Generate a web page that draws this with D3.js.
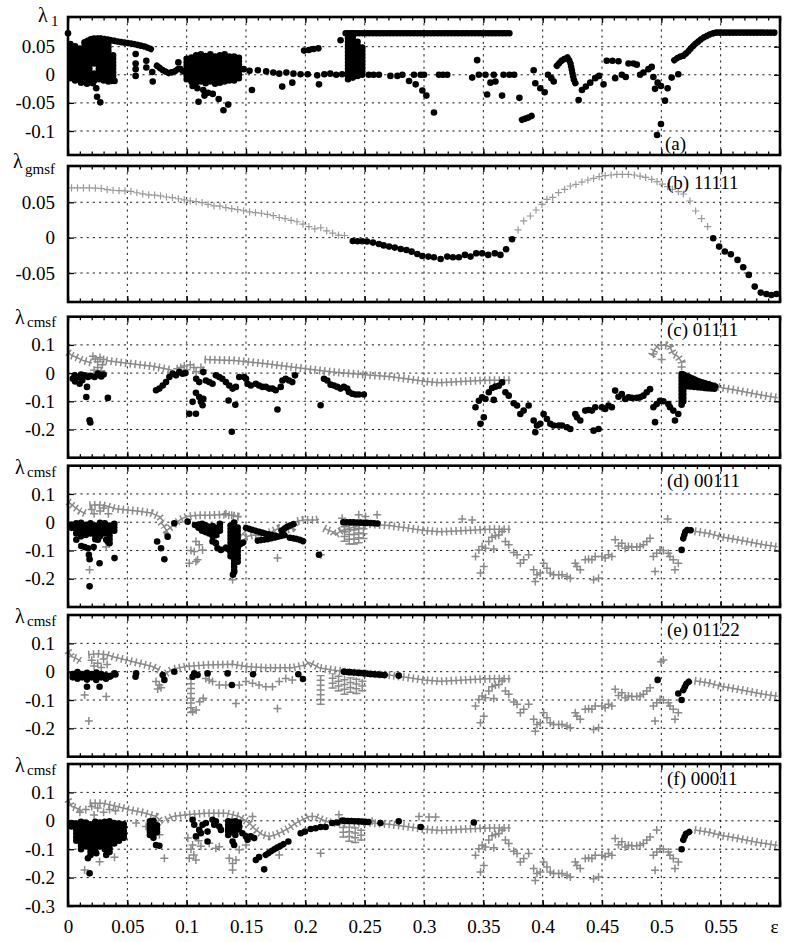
<!DOCTYPE html>
<head>
<meta charset="utf-8">
<title>Lyapunov exponents vs coupling</title>
<script src="https://d3js.org/d3.v7.min.js"></script>
<style>
  body { margin: 0; background: #fff; }
  svg text { font-family: "Liberation Serif", "DejaVu Serif", serif; fill: #000; }
</style>
</head>
<body>
<div id="chart"></div>
<script>

// x axis (coupling strength eps)
var xTicks = [0, 0.05, 0.1, 0.15, 0.2, 0.25, 0.3, 0.35, 0.4, 0.45, 0.5, 0.55, 0.6];
var xTickLabels = ["0", "0.05", "0.1", "0.15", "0.2", "0.25", "0.3", "0.35", "0.4", "0.45", "0.5", "0.55", "ε"];

// ---- panel (a): lambda_1 ----
var aDots = [
  [0.0,0.074],
  [0.011,-0.014],[0.016,-0.016],[0.0238,-0.024],[0.0245,-0.039],[0.0272,-0.049],[0.021,-0.015],[0.0364,-0.011],[0.0392,-0.011],
  [0.057,0.037],[0.057,0.02],[0.057,0.01],[0.057,-0.002],[0.066,0.025],[0.066,0.013],[0.071,0.005],[0.0714,-0.012],[0.093,0.022],
  [0.105,-0.02],[0.109,-0.024],[0.114,-0.027],[0.110,-0.048],[0.115,-0.037],[0.118,-0.032],[0.122,-0.034],[0.127,-0.043],[0.131,-0.063],[0.135,-0.053],
  [0.148,0.01],[0.153,0.007],[0.16,0.008],[0.167,0.006],[0.173,0.004],[0.178,0.002],[0.184,0.004],[0.19,0.002],[0.196,0.001],[0.202,0.001],[0.21,-0.001],[0.216,0.001],[0.221,0.002],[0.226,0],[0.231,0.001],
  [0.155,-0.027],[0.1805,-0.021],[0.189,-0.014],[0.2115,-0.017],
  [0.199,0.043],[0.203,0.044],[0.207,0.046],[0.211,0.047],[0.2297,0.0615],
  [0.2535,0],[0.2575,0],[0.262,0],[0.2717,-0.002],
  [0.2776,-0.002],[0.2818,0],[0.2874,-0.011],[0.293,-0.017],[0.2986,-0.028],[0.302,-0.037],[0.3084,-0.067],[0.2916,0],[0.2972,0],[0.300,0],[0.3126,0],[0.316,0],[0.3196,0],
  [0.3448,0.026],[0.3406,-0.005],[0.3462,0],[0.3518,0],[0.3532,-0.035],[0.356,-0.014],[0.3588,0],[0.3602,-0.012],[0.3658,-0.037],[0.367,0],[0.372,0],[0.376,0],
  [0.3804,-0.041],[0.3924,0.008],[0.3938,-0.015],[0.398,-0.024],[0.4017,-0.031],[0.4045,0],[0.4073,-0.006],[0.4093,-0.012],
  [0.4303,-0.045],[0.4331,-0.027],[0.4364,-0.021],[0.4401,-0.014],[0.4443,-0.006],[0.4476,-0.002],[0.4513,-0.017],
  [0.454,0.025],[0.4588,0.025],[0.4639,0.024],[0.4611,-0.006],[0.4667,0],[0.47,-0.004],[0.4723,0.02],[0.4765,0.02],[0.4793,0.018],
  [0.4821,0],[0.4849,0.004],[0.4891,0.01],[0.4919,0.014],[0.4933,-0.004],[0.4947,-0.025],[0.4969,-0.014],[0.4997,-0.02],[0.5031,-0.046],
  [0.5053,-0.024],[0.4997,-0.0876],[0.4964,-0.107],[0.5087,-0.005],[0.5143,0.001]
];
var aCols = [
  [0.002,-0.006,0.058],[0.006,-0.01,0.056],[0.010,-0.008,0.05],[0.014,-0.012,0.058],[0.018,-0.013,0.06],[0.022,0.02,0.062],[0.022,-0.01,0.005],
  [0.026,-0.008,0.064],[0.030,-0.01,0.06],[0.034,-0.012,0.055],[0.038,-0.008,0.04],
  [0.100,-0.008,0.03],[0.104,-0.012,0.035],[0.108,-0.014,0.037],[0.112,-0.012,0.037],[0.116,-0.015,0.037],[0.120,-0.012,0.037],
  [0.124,-0.016,0.037],[0.128,-0.014,0.037],[0.132,-0.012,0.037],[0.136,-0.01,0.037],[0.140,-0.01,0.037],[0.144,-0.006,0.035],
  [0.236,-0.008,0.074],[0.240,-0.005,0.074],[0.244,-0.002,0.06],[0.248,0.0,0.05]
];
var aChains = [
  [[0.014,0.058],[0.02,0.064],[0.027,0.065],[0.035,0.062],[0.045,0.058],[0.055,0.055],[0.065,0.05],[0.072,0.044]],
  [[0.075,0.016],[0.08,0.008],[0.085,0.003],[0.09,0.006],[0.094,0.012],[0.098,0.004]],
  [[0.234,0.074],[0.373,0.074]],
  [[0.3826,-0.080],[0.388,-0.076],[0.391,-0.073]],
  [[0.412,0.016],[0.4163,0.026],[0.421,0.031],[0.4233,0.022],[0.4247,0.007],[0.4261,-0.008],[0.428,-0.017]],
  [[0.511,0.026],[0.5143,0.031],[0.5185,0.034],[0.522,0.04],[0.5255,0.0485],[0.5297,0.057],[0.5353,0.066],[0.541,0.072],[0.5451,0.075],[0.598,0.075]]
];

// ---- panel (b): lambda_gmsf, pattern 11111 ----
var bPlus = [
  [0.003,0.0705],[0.008,0.0705],[0.013,0.0705],[0.018,0.0705],[0.023,0.07],[0.028,0.0695],[0.033,0.068],[0.038,0.067],[0.043,0.0665],[0.048,0.066],
  [0.053,0.0655],[0.058,0.0635],[0.063,0.062],[0.068,0.0605],[0.073,0.06],[0.078,0.059],[0.083,0.0575],[0.088,0.0565],[0.093,0.055],[0.098,0.0535],
  [0.103,0.052],[0.108,0.051],[0.113,0.0495],[0.118,0.047],[0.123,0.045],[0.128,0.0445],[0.133,0.0425],[0.138,0.041],[0.143,0.0395],[0.148,0.038],
  [0.153,0.0365],[0.158,0.0355],[0.163,0.0345],[0.168,0.033],[0.173,0.031],[0.178,0.0285],[0.183,0.027],[0.188,0.0245],[0.193,0.0225],[0.198,0.019],
  [0.203,0.0155],[0.208,0.0125],[0.213,0.014],[0.218,0.0095],[0.223,0.0065],[0.228,0.0035],[0.233,0.003],
  [0.3793,0.0109],[0.384,0.0236],[0.3896,0.0306],[0.3944,0.0391],[0.3994,0.0471],[0.4036,0.0542],[0.4084,0.057],[0.4134,0.0636],[0.4185,0.0683],
  [0.4233,0.073],[0.428,0.0753],[0.4331,0.0786],[0.4381,0.0815],[0.4429,0.0839],[0.4476,0.0862],[0.4527,0.0876],[0.4577,0.0886],[0.4625,0.0895],
  [0.4672,0.0895],[0.4723,0.0895],[0.4773,0.0886],[0.4821,0.0871],[0.4868,0.0853],[0.4919,0.0824],[0.4964,0.0792],[0.5009,0.0758],[0.5053,0.0721],
  [0.5093,0.0683],[0.5143,0.065],[0.5185,0.0617],[0.5241,0.0518],[0.5289,0.0377],[0.5339,0.0269],[0.539,0.0156]
];
var bDots = [
  [0.24,-0.0047],[0.244,-0.005],[0.248,-0.005],[0.252,-0.0055],[0.257,-0.007],[0.262,-0.009],[0.266,-0.011],[0.2706,-0.0127],[0.2754,-0.0141],
  [0.2804,-0.016],[0.2852,-0.0174],[0.2896,-0.0198],[0.2944,-0.0231],[0.2986,-0.0259],[0.3037,-0.0268],[0.3084,-0.0277],[0.314,-0.0301],
  [0.3196,-0.0268],[0.3244,-0.0277],[0.3294,-0.0277],[0.3345,-0.0244],[0.3392,-0.0268],[0.344,-0.0221],[0.349,-0.0221],[0.3541,-0.0244],
  [0.3597,-0.0221],[0.3644,-0.0244],[0.3692,-0.0164],[0.3742,-0.0023],
  [0.5437,-0.0009],[0.5487,-0.0127],[0.5535,-0.0197],[0.5586,-0.0235],[0.5642,-0.0315],[0.569,-0.0419],[0.5737,-0.0527],[0.5787,-0.0692],
  [0.5838,-0.0777],[0.5885,-0.0796],[0.5927,-0.081],[0.597,-0.0796]
];

// ---- shared pieces of the cmsf panels ----
var midBand = [[0.25,-0.006],[0.2706,-0.012],[0.285,-0.02],[0.3,-0.029],[0.313,-0.034],[0.327,-0.031],[0.34,-0.028],[0.355,-0.025],[0.373,-0.025]];
var tailBand = [[0.528,-0.032],[0.54,-0.04],[0.551,-0.052],[0.562,-0.06],[0.573,-0.069],[0.584,-0.078],[0.598,-0.087]];
var cloud = [
  [0.3434,-0.121],[0.3462,-0.098],[0.349,-0.086],[0.3518,-0.092],[0.3546,-0.068],[0.3574,-0.053],[0.3602,-0.048],[0.363,-0.045],[0.3658,-0.033],
  [0.3476,-0.18],[0.3504,-0.157],[0.3588,-0.095],[0.3686,-0.068],[0.3714,-0.08],[0.3756,-0.107],[0.3784,-0.115],[0.3812,-0.145],[0.384,-0.133],
  [0.3882,-0.115],[0.3924,-0.168],[0.3952,-0.186],[0.3938,-0.21],[0.398,-0.18],[0.4008,-0.145],[0.4036,-0.163],[0.4064,-0.18],[0.4092,-0.186],
  [0.4135,-0.186],[0.4163,-0.186],[0.4205,-0.192],[0.4233,-0.198],[0.4275,-0.145],[0.4289,-0.157],[0.4317,-0.168],[0.4359,-0.133],[0.4387,-0.131],
  [0.4415,-0.133],[0.4443,-0.121],[0.4429,-0.204],[0.4471,-0.198],[0.4499,-0.121],[0.4527,-0.127],[0.4555,-0.115],[0.4583,-0.121],[0.4611,-0.062],
  [0.4639,-0.084],[0.4667,-0.074],[0.4695,-0.092],[0.4723,-0.086],[0.4751,-0.088],[0.4793,-0.088],[0.4821,-0.086],[0.4849,-0.08],[0.4877,-0.068],
  [0.4905,-0.057],[0.4933,-0.121],[0.4947,-0.174],[0.4961,-0.11],[0.4989,-0.098],[0.5017,-0.1],[0.5059,-0.11],[0.5073,-0.121],[0.5101,-0.133],
  [0.5115,-0.168],[0.5143,-0.145]
];

// ---- panel (c): 01111 ----
var cDots = [
  [0.004,-0.02],[0.0056,-0.008],[0.006,-0.03],[0.0084,-0.014],[0.0098,-0.038],[0.011,-0.005],[0.012,-0.025],[0.014,-0.008],[0.0168,-0.014],
  [0.016,-0.049],[0.0154,-0.085],[0.0182,-0.167],[0.0188,-0.175],[0.019,-0.01],[0.0224,-0.014],[0.0252,-0.002],[0.0266,-0.008],[0.028,-0.012],
  [0.03,-0.005],[0.0336,-0.088],
  [0.0742,-0.061],[0.077,-0.055],[0.0798,-0.044],[0.0826,-0.032],[0.0854,-0.014],[0.0882,-0.002],[0.091,-0.008],[0.0938,0.0035],[0.0966,-0.0024],[0.099,0.0],
  [0.1022,-0.144],[0.105,-0.102],[0.1078,-0.144],[0.1078,-0.07],[0.1106,-0.085],[0.112,-0.102],[0.1134,-0.114],[0.114,-0.091],[0.108,-0.02],
  [0.1106,-0.032],[0.114,0.0035],[0.1162,-0.026],[0.119,-0.032],[0.1218,-0.038],[0.1246,-0.008],[0.1275,-0.014],[0.13,-0.02],[0.133,-0.032],
  [0.1359,-0.044],[0.1387,-0.055],[0.1415,-0.049],[0.1353,-0.097],[0.141,-0.112],[0.138,-0.208],[0.1443,-0.014],[0.1485,-0.014],[0.15,-0.02],
  [0.1513,-0.038],[0.1541,-0.044],[0.1583,-0.038],[0.161,-0.044],[0.1639,-0.049],[0.1667,-0.049],[0.1695,-0.055],[0.1723,-0.055],[0.175,-0.061],
  [0.1793,-0.049],[0.1765,-0.129],[0.1807,-0.026],[0.1835,-0.02],[0.1863,-0.026],[0.189,-0.032],[0.1913,-0.008],
  [0.2129,-0.114],[0.2157,-0.02],[0.2185,-0.026],[0.2213,-0.041],[0.2241,-0.044],[0.2269,-0.049],[0.2297,-0.055],[0.2325,-0.049],[0.2353,-0.055],
  [0.2367,-0.067],[0.2395,-0.073],[0.2423,-0.076],[0.245,-0.076],[0.2493,-0.076]
];
var cChains = [
  [[0.5171,-0.112],[0.5171,0.004]],
  [[0.5185,-0.1],[0.5185,-0.01]],
  [[0.5185,-0.005],[0.532,-0.03],[0.547,-0.049]],
  [[0.519,-0.03],[0.547,-0.053]],
  [[0.519,-0.045],[0.535,-0.052],[0.547,-0.056]]
];
var cPlusChains = [
  [[0.0,0.074],[0.003,0.063],[0.007,0.056],[0.012,0.046],[0.02,0.036]],
  [[0.032,0.045],[0.04,0.04],[0.05,0.035],[0.06,0.03],[0.07,0.025],[0.08,0.017],[0.088,0.01]],
  [[0.115,0.048],[0.14,0.045],[0.167,0.033],[0.195,0.018],[0.223,0.004],[0.25,-0.006]],
  [[0.4919,0.062],[0.4947,0.086],[0.4975,0.098],[0.5008,0.1],[0.5045,0.098],[0.5073,0.092],[0.5101,0.068],[0.5137,0.06],[0.5171,0.039],[0.5171,0.01]]
];
var cPlus = [
  [0.021,0.06],[0.023,0.05],[0.025,0.04],[0.027,0.055],[0.029,0.03],[0.025,0.02],[0.03,0.048],[0.022,0.01],[0.028,0.008],
  [0.092,0.015],[0.095,0.02],[0.098,0.025],[0.1,0.012],[0.103,0.03],[0.106,0.02],[0.112,0.02],[0.114,0.01],[0.108,0.005],
  [0.4933,0.068],[0.5003,0.048]
];

// ---- panel (d): 00111 ----
var dDots = [
  [0.007,-0.062],[0.0112,-0.084],[0.014,-0.088],[0.0168,-0.092],[0.0176,-0.115],[0.0182,-0.131],[0.0216,-0.088],[0.0266,-0.145],[0.0252,-0.062],
  [0.0322,-0.062],[0.0336,-0.068],[0.035,-0.074],[0.0392,-0.127],[0.0182,-0.227],
  [0.0751,-0.068],[0.0784,-0.092],[0.0812,-0.131],[0.084,-0.051],[0.0896,-0.004],[0.1008,0.002],
  [0.1218,-0.068],[0.1246,-0.074],[0.126,-0.092],[0.1289,-0.098],[0.133,-0.092],[0.139,-0.186],[0.14,-0.176],
  [0.2115,-0.115],[0.5171,-0.098]
];
var dCols = [
  [0.003,-0.02,0.0],[0.007,-0.04,0.0],[0.011,-0.05,0.0],[0.015,-0.045,0.0],[0.019,-0.04,0.0],[0.023,-0.06,0.0],[0.027,-0.05,0.0],
  [0.031,-0.04,0.0],[0.035,-0.06,0.0],[0.039,-0.03,0.0],
  [0.107,-0.01,0.0],[0.11,-0.02,0.0],[0.113,-0.03,0.0],[0.116,-0.035,0.0],[0.119,-0.04,-0.005],[0.122,-0.05,-0.01],[0.125,-0.045,-0.01],[0.128,-0.03,-0.005],
  [0.137,-0.12,0.0],[0.14,-0.17,0.0],[0.143,-0.14,-0.01]
];
var dChains = [
  [[0.133,-0.09],[0.137,-0.1],[0.142,-0.09],[0.146,-0.075],[0.15,-0.068]],
  [[0.15,-0.02],[0.158,-0.03],[0.166,-0.04],[0.175,-0.048]],
  [[0.16,-0.065],[0.168,-0.06],[0.176,-0.052],[0.183,-0.045]],
  [[0.18,-0.03],[0.185,-0.015],[0.19,-0.007]],
  [[0.187,-0.055],[0.194,-0.06],[0.2,-0.07]],
  [[0.232,0.0],[0.245,-0.001],[0.255,-0.003],[0.262,-0.005]],
  [[0.5185,-0.057],[0.5207,-0.027],[0.527,-0.029]]
];
var dPlusChains = [
  [[0.0,0.073],[0.005,0.055],[0.01,0.04],[0.015,0.03]],
  [[0.018,0.06],[0.025,0.062],[0.032,0.058],[0.04,0.048],[0.05,0.043],[0.06,0.039],[0.07,0.033],[0.077,0.02],[0.08,0.005]],
  [[0.078,0.0],[0.081,-0.015],[0.083,-0.03],[0.086,-0.02],[0.09,-0.005],[0.095,0.01],[0.1,0.02],[0.11,0.025],[0.12,0.025],[0.13,0.027],[0.14,0.023],[0.146,0.018]],
  [[0.147,-0.039],[0.15,-0.051],[0.156,-0.045],[0.161,-0.048],[0.167,-0.039],[0.172,-0.033],[0.178,-0.021],[0.184,-0.027],[0.189,-0.021],[0.192,0.002],[0.198,0.008],[0.209,0.008],[0.2115,0.011]],
  [[0.2157,-0.021],[0.2185,-0.027],[0.2227,-0.033],[0.2255,-0.045],[0.23,-0.03],[0.25,-0.006]],
  [[0.233,-0.07],[0.233,-0.005]],[[0.237,-0.08],[0.237,-0.01]],[[0.241,-0.08],[0.241,-0.01]],[[0.245,-0.075],[0.245,-0.015]],[[0.249,-0.06],[0.249,-0.01]]
];
var dPlus = [
  [0.02,0.045],[0.022,0.03],[0.027,0.04],[0.03,0.05],[0.034,0.03],[0.0182,-0.168],[0.0322,-0.088],
  [0.1078,-0.068],[0.1106,-0.08],[0.1134,-0.098],[0.1036,-0.1],[0.1064,-0.104],[0.1092,-0.133],[0.1022,-0.145],[0.1078,-0.139],
  [0.1246,-0.051],[0.1387,-0.204],[0.1765,-0.127],[0.133,0.03],[0.138,0.025],[0.143,0.02],[0.213,-0.115],
  [0.231,0.014],[0.245,0.026],[0.2507,0.02],[0.2605,0.026],[0.3322,0.011],[0.3406,0.008],[0.5053,0.011]
];

// ---- panel (e): 01122 ----
var eDots = [
  [0.016,-0.053],[0.0266,-0.053],[0.0238,-0.029],[0.035,-0.018],[0.0392,-0.006],[0.0574,-0.006],[0.0569,-0.018],[0.0798,-0.012],[0.0812,-0.029],
  [0.0896,0],[0.1064,-0.006],[0.105,-0.018],[0.1092,-0.012],[0.1176,-0.006],[0.1345,-0.006],[0.1381,-0.047],[0.156,-0.009],[0.1941,-0.009],
  [0.198,-0.026],[0.2787,-0.014],[0.4969,-0.029],[0.5143,-0.077],[0.5171,-0.1]
];
var eCols = [
  [0.004,-0.02,0.0],[0.008,-0.025,0.0],[0.012,-0.02,0.003],[0.016,-0.028,0.0],[0.02,-0.02,0.002],[0.024,-0.015,0.0],[0.028,-0.02,-0.005],
  [0.032,-0.025,-0.01],[0.036,-0.015,-0.005],[0.04,-0.01,0.0]
];
var eChains = [
  [[0.2325,0],[0.245,-0.004],[0.255,-0.008],[0.2675,-0.012]],
  [[0.5185,-0.065],[0.5213,-0.041],[0.5255,-0.029]]
];
var ePlusChains = [
  [[0.0,0.073],[0.003,0.053],[0.007,0.047],[0.011,0.035]],
  [[0.017,0.06],[0.025,0.063],[0.033,0.06],[0.038,0.053],[0.049,0.041],[0.06,0.03],[0.071,0.018],[0.077,0.006]],
  [[0.0826,-0.006],[0.0882,0.009],[0.0994,0.018],[0.1162,0.024],[0.1387,0.026],[0.15,0.018],[0.1667,0.014],[0.189,0.014],[0.2003,0.024],
   [0.203,0.033],[0.2073,0.024],[0.2115,0.014],[0.2227,0.006],[0.234,0],[0.25,-0.006]],
  [[0.1036,-0.147],[0.1036,-0.024]],
  [[0.2129,-0.118],[0.2129,-0.012]],
  [[0.223,-0.06],[0.223,-0.006]],[[0.228,-0.07],[0.228,-0.01]],[[0.233,-0.082],[0.233,-0.015]],[[0.238,-0.075],[0.238,-0.02]],
  [[0.243,-0.08],[0.243,-0.02]],[[0.248,-0.07],[0.248,-0.025]]
];
var ePlus = [
  [0.02,0.04],[0.025,0.03],[0.03,0.045],[0.033,0.025],[0.028,0.015],[0.022,0.02],[0.014,-0.082],[0.0322,-0.088],[0.0176,-0.174],
  [0.0742,-0.035],[0.077,-0.047],[0.0756,-0.061],[0.0784,-0.057],[0.105,-0.141],[0.108,-0.135],[0.111,-0.106],[0.114,-0.094],
  [0.1162,-0.024],[0.119,-0.029],[0.1218,-0.035],[0.1275,-0.047],[0.133,-0.047],[0.1415,-0.112],[0.1443,-0.047],[0.15,-0.035],
  [0.1555,-0.041],[0.161,-0.047],[0.1667,-0.053],[0.1723,-0.053],[0.178,-0.035],[0.1835,-0.024],[0.189,-0.029],[0.1765,-0.13],
  [0.5017,0.041],[0.4997,0.035]
];

// ---- panel (f): 00011 ----
var fDots = [
  [0.0168,-0.132],[0.0182,-0.185],[0.0238,-0.114],[0.0322,-0.12],[0.0742,-0.085],[0.077,-0.088],
  [0.105,0.0035],[0.1064,-0.014],[0.1078,-0.055],[0.1106,-0.032],[0.112,-0.044],[0.1134,-0.014],[0.1162,-0.008],[0.1176,-0.038],[0.1176,-0.073],
  [0.1218,0.0035],[0.1232,-0.014],[0.1246,-0.002],[0.1275,-0.02],[0.1289,-0.032],[0.1387,-0.073],[0.14,-0.085],[0.1443,-0.02],[0.147,-0.044],
  [0.15,-0.055],[0.1513,-0.067],[0.154,-0.055],[0.1569,-0.061],
  [0.1583,-0.138],[0.161,-0.128],[0.1653,-0.171],[0.1857,-0.073],[0.1961,-0.044],[0.1997,-0.038],[0.2045,-0.029],[0.2087,-0.026],[0.2129,-0.022],
  [0.2171,-0.022],[0.2227,-0.008],[0.2269,-0.006],[0.2311,0.001],
  [0.2633,-0.008],[0.2787,-0.002],[0.2972,-0.022],[0.342,-0.006],[0.5171,-0.1]
];
var fCols = [
  [0.003,-0.02,0.0],[0.007,-0.07,0.0],[0.011,-0.1,0.0],[0.015,-0.09,0.0],[0.019,-0.12,0.0],[0.023,-0.1,0.0],[0.027,-0.09,0.0],[0.031,-0.1,0.0],
  [0.035,-0.11,0.0],[0.039,-0.08,0.0],[0.043,-0.07,0.0],[0.047,-0.06,0.0],
  [0.069,-0.05,0.0],[0.072,-0.06,0.005],[0.075,-0.04,-0.01],
  [0.135,-0.05,0.0],[0.138,-0.04,0.0],[0.141,-0.05,0.0],[0.144,-0.03,0.0]
];
var fChains = [
  [[0.1667,-0.12],[0.1709,-0.108],[0.175,-0.097],[0.1793,-0.088],[0.1821,-0.081]],
  [[0.233,0.0],[0.245,-0.002],[0.255,-0.005]],
  [[0.5185,-0.067],[0.5207,-0.046],[0.524,-0.038]]
];
var fPlusChains = [
  [[0.0,0.074],[0.003,0.051],[0.007,0.045],[0.012,0.033]],
  [[0.0182,0.062],[0.0294,0.062],[0.0406,0.051],[0.0518,0.039],[0.063,0.029],[0.0742,0.015],[0.0798,-0.008]],
  [[0.0826,0.0035],[0.0882,0.015],[0.0994,0.021],[0.1162,0.027],[0.133,0.027],[0.1443,0.015],[0.1527,-0.008],[0.1583,-0.032],[0.1639,-0.049],
   [0.1695,-0.055],[0.175,-0.049],[0.1807,-0.038],[0.1863,-0.026],[0.1919,-0.008],[0.1975,0.0035],[0.2031,0.015],[0.2087,0.015],[0.2143,0.0035],
   [0.22,-0.005],[0.23,-0.01],[0.25,-0.006]],
  [[0.232,-0.06],[0.232,-0.015]],[[0.237,-0.075],[0.237,-0.02]],[[0.242,-0.079],[0.242,-0.02]],[[0.247,-0.07],[0.247,-0.025]]
];
var fPlus = [
  [0.01,0.03],[0.015,0.04],[0.02,0.05],[0.025,0.045],[0.03,0.03],[0.035,0.04],[0.04,0.035],[0.022,0.02],
  [0.0574,-0.008],[0.0658,-0.02],[0.0714,-0.038],[0.077,-0.049],[0.0812,-0.132],[0.0196,-0.073],[0.014,-0.173],[0.0266,-0.144],[0.0392,-0.128],
  [0.101,-0.061],[0.1036,-0.1],[0.1022,-0.132],[0.1078,-0.138],[0.105,-0.085],[0.11,-0.07],[0.112,-0.09],[0.106,-0.12],[0.119,-0.079],
  [0.1246,-0.097],[0.1275,-0.091],[0.1359,-0.132],[0.1387,-0.173],[0.1387,-0.15],[0.1415,-0.138],[0.1443,-0.102],[0.15,-0.085],[0.178,-0.12],
  [0.2129,-0.114],[0.1555,0.015],[0.2283,0.021],[0.2563,-0.002],[0.2958,0.015],[0.3042,0.013],[0.3098,0.013],[0.4961,-0.032]
];

// panel layout (pixel frame of each subplot)
var panels = [
  {id:"a", top:17, bottom:155, yDomain:[-0.1427,0.1028], yTicks:[-0.1,-0.05,0,0.05], sub:"1", title:[38,22,51,26],
   label:"(a)", labelXY:[665,150], dots:aDots, cols:aCols, chains:aChains, plus:[], plusChains:[]},
  {id:"b", top:166, bottom:302, yDomain:[-0.091,0.1013], yTicks:[-0.05,0,0.05], sub:"gmsf", title:[13,168,25,174],
   label:"(b) 11111", labelXY:[667,189], dots:bDots, cols:[], chains:[], plus:bPlus, plusChains:[], light:true},
  {id:"c", top:316.7, bottom:457.7, yDomain:[-0.3,0.2], yTicks:[-0.2,-0.1,0,0.1], sub:"cmsf", title:[15,324,27,327],
   label:"(c) 01111", labelXY:[667,336], dots:cDots.concat(cloud), cols:[], chains:cChains, plus:cPlus,
   plusChains:cPlusChains.concat([midBand, tailBand])},
  {id:"d", top:465.7, bottom:607, yDomain:[-0.3,0.2], yTicks:[-0.2,-0.1,0,0.1], sub:"cmsf", title:[15,474,27,477],
   label:"(d) 00111", labelXY:[667,487], dots:dDots, cols:dCols, chains:dChains, plus:dPlus.concat(cloud),
   plusChains:dPlusChains.concat([midBand, tailBand])},
  {id:"e", top:615, bottom:756.7, yDomain:[-0.3,0.2], yTicks:[-0.2,-0.1,0,0.1], sub:"cmsf", title:[15,623,27,626],
   label:"(e) 01122", labelXY:[667,636], dots:eDots, cols:eCols, chains:eChains, plus:ePlus.concat(cloud),
   plusChains:ePlusChains.concat([midBand, tailBand])},
  {id:"f", top:764, bottom:906, yDomain:[-0.3,0.2], yTicks:[-0.3,-0.2,-0.1,0,0.1], sub:"cmsf", title:[15,772,27,775],
   label:"(f) 00011", labelXY:[667,785], dots:fDots, cols:fCols, chains:fChains, plus:fPlus.concat(cloud),
   plusChains:fPlusChains.concat([midBand, tailBand]), xLabels:true}
];

var width = 788, height = 942;
var x = d3.scaleLinear().domain([0, 0.6]).range([68, 780]);

var svg = d3.select("#chart").append("svg")
    .attr("width", width)
    .attr("height", height);

panels.forEach(function(p) {
  var y = d3.scaleLinear().domain(p.yDomain).range([p.bottom, p.top]);
  var line = d3.line().x(function(d) { return x(d[0]); }).y(function(d) { return y(d[1]); });
  var g = svg.append("g").attr("class", "panel-" + p.id);
  var grey = p.light ? "#9a9a9a" : "#8a8a8a";

  // dashed grid
  var grid = g.append("g").attr("stroke", "#000").attr("stroke-width", 0.9).attr("stroke-dasharray", "2.2,4");
  grid.selectAll(".vg").data(xTicks.slice(1, -1)).enter().append("line")
      .attr("x1", function(d) { return x(d); }).attr("x2", function(d) { return x(d); })
      .attr("y1", p.top).attr("y2", p.bottom);
  grid.selectAll(".hg").data(p.yTicks.filter(function(d) { return y(d) > p.top + 2 && y(d) < p.bottom - 2; })).enter().append("line")
      .attr("x1", x(0)).attr("x2", x(0.6))
      .attr("y1", function(d) { return y(d); }).attr("y2", function(d) { return y(d); });

  // grey plus bands: a thin line plus short cross bars
  var pc = g.append("g").attr("fill", "none").attr("stroke", grey);
  pc.selectAll(".pl").data(p.plusChains).enter().append("path")
      .attr("d", line).attr("stroke-width", 1.5);
  pc.selectAll(".pb").data(p.plusChains).enter().append("path")
      .attr("d", line).attr("stroke-width", 8).attr("stroke-dasharray", "1.5,3.3");

  // single grey pluses
  var s = p.light ? 3.6 : 4;
  g.append("g").selectAll("path").data(p.plus).enter().append("path")
      .attr("transform", function(d) { return "translate(" + x(d[0]) + "," + y(d[1]) + ")"; })
      .attr("d", "M" + (-s) + ",0H" + s + "M0," + (-s) + "V" + s)
      .attr("stroke", grey).attr("stroke-width", p.light ? 1.2 : 1.5).attr("fill", "none");

  // dense black runs drawn as beads of dots
  var runs = p.chains.concat(p.cols.map(function(c) { return [[c[0], c[1]], [c[0], c[2]]]; }));
  g.append("g").selectAll("path").data(runs).enter().append("path")
      .attr("d", line)
      .attr("fill", "none").attr("stroke", "#000").attr("stroke-width", 6.6)
      .attr("stroke-linecap", "round").attr("stroke-linejoin", "round")
      .attr("stroke-dasharray", "0.01,3.4");

  // black dots
  g.append("g").selectAll("circle").data(p.dots).enter().append("circle")
      .attr("cx", function(d) { return x(d[0]); })
      .attr("cy", function(d) { return y(d[1]); })
      .attr("r", 3.3).attr("fill", "#000");

  // ticks on all four sides, pointing inward
  var bottomAxis = d3.axisBottom(x).tickValues(xTicks).tickSizeInner(-6).tickSizeOuter(0).tickPadding(14)
      .tickFormat(function(d, i) { return p.xLabels ? xTickLabels[i] : ""; });
  var bottomMinor = d3.axisBottom(x).tickValues(x.ticks(60)).tickSizeInner(-3.5).tickSizeOuter(0).tickFormat("");
  var topAxis = d3.axisTop(x).tickValues(xTicks).tickSizeInner(-6).tickSizeOuter(0).tickFormat("");
  var topMinor = d3.axisTop(x).tickValues(x.ticks(60)).tickSizeInner(-3.5).tickSizeOuter(0).tickFormat("");
  var leftAxis = d3.axisLeft(y).tickValues(p.yTicks).tickSizeInner(-6).tickSizeOuter(0).tickPadding(13)
      .tickFormat(function(d) { return String(d); });
  var rightAxis = d3.axisRight(y).tickValues(p.yTicks).tickSizeInner(-6).tickSizeOuter(0).tickFormat("");

  [[bottomAxis, "translate(0," + p.bottom + ")"], [bottomMinor, "translate(0," + p.bottom + ")"],
   [topAxis, "translate(0," + p.top + ")"], [topMinor, "translate(0," + p.top + ")"],
   [leftAxis, "translate(" + x(0) + ",0)"], [rightAxis, "translate(" + x(0.6) + ",0)"]].forEach(function(a) {
    var ax = g.append("g").attr("transform", a[1]).call(a[0]);
    ax.select(".domain").remove();
    ax.selectAll("line").attr("stroke", "#000").attr("stroke-width", 1.3);
    ax.selectAll("text").attr("font-size", 19).attr("fill", "#000")
      .style("font-family", '"Liberation Serif", "DejaVu Serif", serif');
  });

  // the eps label at the right end sits a little left of its tick
  g.selectAll("text").filter(function() { return d3.select(this).text() === "ε"; }).attr("dx", -6);

  // frame
  g.append("rect")
      .attr("x", x(0)).attr("y", p.top)
      .attr("width", x(0.6) - x(0)).attr("height", p.bottom - p.top)
      .attr("fill", "none").attr("stroke", "#000").attr("stroke-width", 2.6);

  // y title lambda with subscript
  g.append("text").attr("x", p.title[0]).attr("y", p.title[1]).attr("font-size", 20).text("λ");
  g.append("text").attr("x", p.title[2]).attr("y", p.title[3]).attr("font-size", 15).text(p.sub);

  // panel label
  g.append("text").attr("x", p.labelXY[0]).attr("y", p.labelXY[1]).attr("font-size", 19).text(p.label);
});

</script>
</body>
